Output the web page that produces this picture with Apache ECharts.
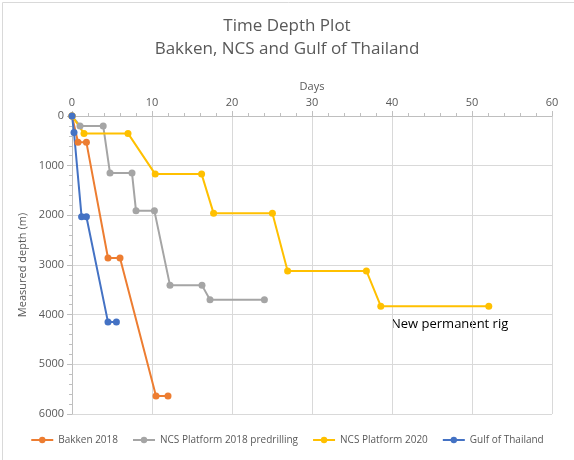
<!DOCTYPE html>
<html>
<head>
<meta charset="utf-8">
<script src="https://cdn.jsdelivr.net/npm/echarts@6/dist/echarts.min.js"></script>
<style>html,body{margin:0;padding:0;background:#fff}#chart{width:574px;height:460px}</style>
</head>
<body>
<div id="chart"></div>
<script>
var seriesNames = ['Bakken 2018', 'NCS Platform 2018 predrilling', 'NCS Platform 2020', 'Gulf of Thailand'];
var seriesColors = ['#ED7D31', '#A5A5A5', '#FFC000', '#4472C4'];
var bakkenDays = [0, 0.75, 1.8, 4.5, 6.0, 10.5, 12.0];
var bakkenDepth = [0, 530, 530, 2860, 2860, 5640, 5640];
var ncs2018Days = [0, 1.0, 3.9, 4.75, 7.5, 8.0, 10.3, 12.25, 16.25, 17.25, 24.05];
var ncs2018Depth = [0, 200, 200, 1150, 1150, 1910, 1910, 3410, 3410, 3700, 3700];
var ncs2020Days = [0, 1.5, 7.0, 10.4, 16.2, 17.7, 25.05, 26.95, 36.8, 38.6, 52.1];
var ncs2020Depth = [0, 350, 350, 1170, 1170, 1960, 1960, 3120, 3120, 3830, 3830];
var gulfDays = [0, 0.25, 1.2, 1.8, 4.5, 5.55];
var gulfDepth = [0, 330, 2030, 2030, 4150, 4150];

function pairs(xs, ys) {
  return xs.map(function (x, i) { return [x, ys[i]]; });
}

var chart = echarts.init(document.getElementById('chart'));
var allData = [pairs(bakkenDays, bakkenDepth), pairs(ncs2018Days, ncs2018Depth),
               pairs(ncs2020Days, ncs2020Depth), pairs(gulfDays, gulfDepth)];

var option = {
  animation: false,
  textStyle: { fontFamily: 'Open Sans, Liberation Sans, sans-serif' },
  title: {
    text: 'Time Depth Plot\nBakken, NCS and Gulf of Thailand',
    left: 'center', top: 10,
    textStyle: { fontSize: 17, fontWeight: 'normal', color: '#595959', lineHeight: 23 }
  },
  legend: {
    bottom: 10, itemGap: 14, itemWidth: 22, itemHeight: 8,
    textStyle: { fontSize: 10, color: '#595959' },
    data: seriesNames
  },
  grid: { left: 72, right: 22, top: 116, bottom: 46 },
  xAxis: {
    type: 'value', position: 'top', min: 0, max: 60, interval: 10,
    name: 'Days', nameLocation: 'middle', nameGap: 24,
    nameTextStyle: { fontSize: 11, color: '#595959' },
    axisLine: { show: true, lineStyle: { color: '#bfbfbf' } },
    axisTick: { show: true, lineStyle: { color: '#bfbfbf' } },
    minorTick: { show: true, splitNumber: 5, length: 3, lineStyle: { color: '#bfbfbf' } },
    axisLabel: { fontSize: 11, color: '#595959' },
    splitLine: { lineStyle: { color: '#d9d9d9' } }
  },
  yAxis: {
    type: 'value', inverse: true, min: 0, max: 6000, interval: 1000,
    name: 'Measured depth (m)', nameLocation: 'middle', nameGap: 42, nameRotate: 90,
    nameTextStyle: { fontSize: 11, color: '#595959' },
    axisLine: { show: true, lineStyle: { color: '#bfbfbf' } },
    axisTick: { show: true, lineStyle: { color: '#bfbfbf' } },
    minorTick: { show: true, splitNumber: 5, length: 3, lineStyle: { color: '#bfbfbf' } },
    axisLabel: { fontSize: 11, color: '#595959', formatter: function (v) { return String(v); } },
    splitLine: { lineStyle: { color: '#d9d9d9' } }
  },
  graphic: [{
    type: 'rect', left: 0, top: 0, silent: true,
    shape: { width: 573, height: 459 },
    style: { fill: 'none', stroke: '#d9d9d9', lineWidth: 1 }
  }, {
    type: 'text', left: 391, top: 318,
    style: { text: 'New permanent rig', fontSize: 13, fill: '#000', fontFamily: 'Open Sans, sans-serif' }
  }],
  series: seriesNames.map(function (name, i) {
    return {
      name: name, type: 'line', data: allData[i],
      symbol: 'circle', symbolSize: 7,
      itemStyle: { color: seriesColors[i] },
      lineStyle: { width: 2, color: seriesColors[i] }
    };
  })
};

chart.setOption(option);
</script>
</body>
</html>
